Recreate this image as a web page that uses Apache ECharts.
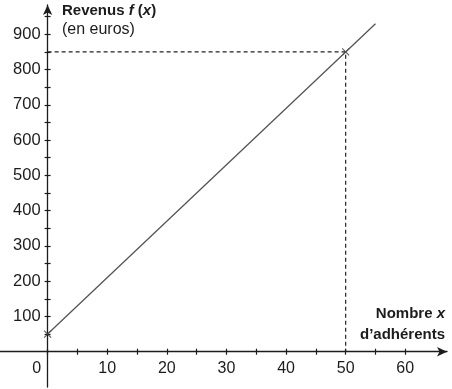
<!DOCTYPE html>
<html><head><meta charset="utf-8">
<script src="https://cdn.jsdelivr.net/npm/echarts@6/dist/echarts.min.js"></script>
<style>html,body{margin:0;padding:0;background:#fff}#c{width:452px;height:389px}</style>
</head><body><div id="c"></div>
<script>
// Data
const lineX = [0, 50, 55];
const lineY = [50, 850, 930];
const pointsX = [0, 50];
const pointsY = [50, 850];
const guideX = [0, 50, 50];
const guideY = [850, 850, 0];
const xTicks = [0, 5, 10, 15, 20, 25, 30, 35, 40, 45, 50, 55, 60];
const xLabels = [0, 10, 20, 30, 40, 50, 60];
const yTicks = [50,100,150,200,250,300,350,400,450,500,550,600,650,700,750,800,850,900,950];
const yLabels = [100,200,300,400,500,600,700,800,900];

const zip = (a, b) => a.map((v, i) => [v, b[i]]);
const font = '"Liberation Sans", Arial, Helvetica, sans-serif';
const ink = '#1c1c1c';
const XMIN = -10, XMAX = 67, YMIN = -100, YMAX = 983;
const W = 452, H = 389;
const G = { left: -12, right: 5, top: 5, bottom: 2 };
const gw = W - G.left - G.right, gh = H - G.top - G.bottom;
const ox = G.left + (0 - XMIN) / (XMAX - XMIN) * gw;
const oy = G.top + (YMAX - 0) / (YMAX - YMIN) * gh;

const tickStyle = { color: ink, width: 1.2 };
const chart = echarts.init(document.getElementById('c'));
chart.setOption({
  animation: false,
  backgroundColor: '#ffffff',
  grid: [
    Object.assign({ containLabel: false, outerBoundsMode: 'none' }, G),
    { left: ox, right: G.right, top: G.top, bottom: H - oy, containLabel: false, outerBoundsMode: 'none' }
  ],
  xAxis: [
    { gridIndex: 0, type: 'value', min: XMIN, max: XMAX, position: 'bottom',
      axisLine: { onZero: true, lineStyle: { color: ink, width: 1.3 }, symbol: ['none', 'arrow'], symbolSize: [7, 10] },
      axisTick: { show: true, length: 3, customValues: xTicks, lineStyle: tickStyle },
      axisLabel: { show: false }, splitLine: { show: false } },
    { gridIndex: 0, type: 'value', min: XMIN, max: XMAX, position: 'top',
      axisLine: { show: false, onZero: true },
      axisTick: { show: true, length: 3, customValues: xTicks, lineStyle: tickStyle },
      axisLabel: { show: false }, splitLine: { show: false } },
    { gridIndex: 1, type: 'value', min: 0, max: XMAX, position: 'bottom',
      axisLine: { show: false }, axisTick: { show: false }, splitLine: { show: false },
      axisLabel: { show: true, customValues: xLabels, margin: 9, fontSize: 16, color: ink, fontFamily: font,
        formatter: v => v === 0 ? '{z|0}' : String(v),
        rich: { z: { fontSize: 16, color: ink, fontFamily: font, padding: [0, 22, 0, 0] } } } }
  ],
  yAxis: [
    { gridIndex: 0, type: 'value', min: YMIN, max: YMAX, position: 'left',
      axisLine: { onZero: true, lineStyle: { color: ink, width: 1.3 }, symbol: ['none', 'arrow'], symbolSize: [7, 10] },
      axisTick: { show: true, length: 3, customValues: yTicks, lineStyle: tickStyle },
      axisLabel: { show: false }, splitLine: { show: false } },
    { gridIndex: 0, type: 'value', min: YMIN, max: YMAX, position: 'right',
      axisLine: { show: false, onZero: true },
      axisTick: { show: true, length: 3, customValues: yTicks, lineStyle: tickStyle },
      axisLabel: { show: false }, splitLine: { show: false } },
    { gridIndex: 1, type: 'value', min: 0, max: YMAX, position: 'left',
      axisLine: { show: false }, axisTick: { show: false }, splitLine: { show: false },
      axisLabel: { show: true, customValues: yLabels, margin: 7, fontSize: 16.5, color: ink, fontFamily: font } }
  ],
  series: [
    { type: 'line', xAxisIndex: 0, yAxisIndex: 0, data: zip(guideX, guideY), symbol: 'none', silent: true,
      lineStyle: { color: '#222', width: 1.2, type: [4, 3] } },
    { type: 'line', xAxisIndex: 0, yAxisIndex: 0, data: zip(lineX, lineY), symbol: 'none', silent: true,
      lineStyle: { color: '#555', width: 1.3 } },
    { type: 'scatter', xAxisIndex: 0, yAxisIndex: 0, data: zip(pointsX, pointsY),
      symbol: 'path://M0,0L10,10M10,0L0,10', symbolSize: 7,
      itemStyle: { color: 'rgba(0,0,0,0)', borderColor: '#333', borderWidth: 1.1 } }
  ],
  graphic: [
    { type: 'text', left: 62, top: 3, style: { text: '{b|Revenus }{i|f}{b| (}{i|x}{b|)}', rich: {
        b: { fontSize: 15, fontWeight: 'bold', fontFamily: font, fill: ink },
        i: { fontSize: 15, fontWeight: 'bold', fontStyle: 'italic', fontFamily: font, fill: ink } } } },
    { type: 'text', left: 62, top: 22, style: { text: '(en euros)', fontSize: 16, fontFamily: font, fill: ink } },
    { type: 'text', right: 7, top: 306, style: { text: '{b|Nombre }{i|x}', rich: {
        b: { fontSize: 15, fontWeight: 'bold', fontFamily: font, fill: ink },
        i: { fontSize: 15, fontWeight: 'bold', fontStyle: 'italic', fontFamily: font, fill: ink } } } },
    { type: 'text', right: 7, top: 327, style: { text: 'd\u2019adhérents', fontSize: 15, fontWeight: 'bold', fontFamily: font, fill: ink } }
  ]
});
</script></body></html>
